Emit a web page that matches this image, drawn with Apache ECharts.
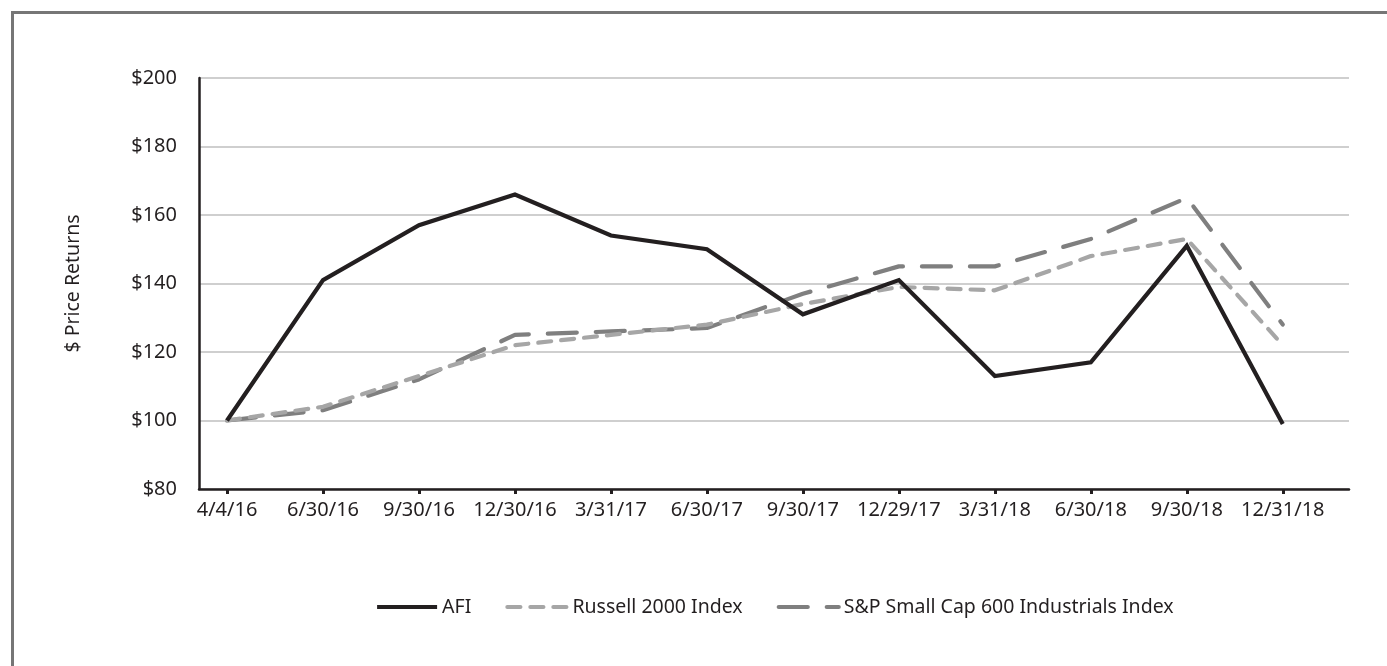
<!DOCTYPE html>
<html>
<head>
<meta charset="utf-8">
<script src="https://cdn.jsdelivr.net/npm/echarts@6/dist/echarts.min.js"></script>
<style>
  html, body { margin: 0; padding: 0; background: #fff; }
  #frame { position: absolute; left: 11px; top: 11px; width: 1400px; height: 700px; border: 3px solid #767676; box-sizing: border-box; }
  #chart { position: absolute; left: 0; top: 0; width: 1387px; height: 666px; }
</style>
</head>
<body>
<div id="frame"></div>
<div id="chart"></div>
<script>
// dates on the x axis
const dates = ['4/4/16', '6/30/16', '9/30/16', '12/30/16', '3/31/17', '6/30/17', '9/30/17', '12/29/17', '3/31/18', '6/30/18', '9/30/18', '12/31/18']

// values
const afi = [100, 141, 157, 166, 154, 150, 131, 141, 113, 117, 151, 99]
const russell = [100, 104, 113, 122, 125, 128, 134, 139, 138, 148, 153, 122]
const spIndustrials = [100, 103, 112, 125, 126, 127, 137, 145, 145, 153, 165, 128]

const seriesNames = ['AFI', 'Russell 2000 Index', 'S&P Small Cap 600 Industrials Index']

const font = '"Noto Sans", sans-serif'
const ink = '#231f20'

const chart = echarts.init(document.getElementById('chart'))

// pair each value with its date index
const toPoints = (arr) => arr.map((v, i) => [i, v])

const option = {
  animation: false,
  grid: { left: 199, right: 38, top: 78, bottom: 177 },
  legend: {
    left: 370,
    top: 592,
    itemWidth: 60,
    itemHeight: 14,
    itemGap: 34,
    itemStyle: { opacity: 0 },
    lineStyle: { width: 4.2 },
    textStyle: { fontFamily: font, fontSize: 19.5, color: ink },
    data: seriesNames
  },
  xAxis: {
    type: 'value',
    min: -0.292,
    max: 11.69,
    splitLine: { show: false },
    axisLine: { onZero: false, lineStyle: { color: ink, width: 2.5 } },
    axisTick: {
      customValues: dates.map((d, i) => i),
      length: 5,
      lineStyle: { color: ink, width: 3 }
    },
    axisLabel: {
      customValues: dates.map((d, i) => i),
      formatter: (v) => dates[v],
      margin: 11,
      fontFamily: font,
      fontSize: 20,
      color: ink
    }
  },
  yAxis: {
    type: 'value',
    min: 80,
    max: 200,
    interval: 20,
    name: '$ Price Returns',
    nameLocation: 'middle',
    nameGap: 116,
    nameTextStyle: { fontFamily: font, fontSize: 19.5, color: ink },
    axisLine: { show: true, onZero: false, lineStyle: { color: ink, width: 2.5 } },
    axisTick: { show: false },
    splitLine: { lineStyle: { color: '#bfbfbf', width: 1.5 } },
    axisLabel: {
      formatter: (v) => '$' + v,
      margin: 22,
      fontFamily: font,
      fontSize: 20,
      color: ink
    }
  },
  series: [
    {
      name: seriesNames[0],
      type: 'line',
      data: toPoints(afi),
      symbol: 'none',
      z: 3,
      lineStyle: { color: ink, width: 4.2, join: 'miter' },
      itemStyle: { color: ink }
    },
    {
      name: seriesNames[1],
      type: 'line',
      data: toPoints(russell),
      symbol: 'none',
      z: 2,
      lineStyle: { color: '#a6a6a6', width: 4.2, type: [13, 10], cap: 'round' },
      itemStyle: { color: '#a6a6a6' }
    },
    {
      name: seriesNames[2],
      type: 'line',
      data: toPoints(spIndustrials),
      symbol: 'none',
      z: 1,
      lineStyle: { color: '#7f7f7f', width: 4.2, type: [29, 19], cap: 'round' },
      itemStyle: { color: '#7f7f7f' }
    }
  ]
}

chart.setOption(option)
</script>
</body>
</html>
